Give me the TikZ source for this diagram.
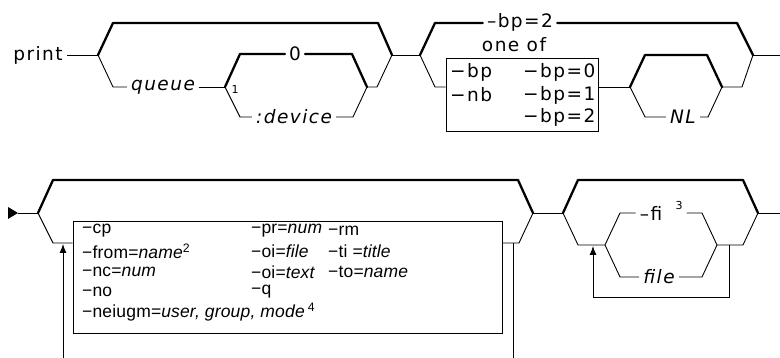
\documentclass[tikz,border=0pt]{standalone}
\usepackage{fontspec}
\setmainfont{DejaVu Sans}
\newfontfamily\boxfont{Liberation Sans}[LetterSpace=1]
\usetikzlibrary{arrows.meta}
\newcommand{\lblsize}{\fontsize{18.5}{22}\selectfont\addfontfeatures{LetterSpace=8}}
\newcommand{\boxsize}{\boxfont\fontsize{17.5}{20}\selectfont}
\begin{document}
\begin{tikzpicture}[x=1pt,y=-1pt,
  thn/.style={line width=0.9pt},
  thk/.style={line width=2.3pt,line join=round,line cap=round},
  lbl/.style={inner sep=0pt,inner xsep=4pt,font=\lblsize},
  var/.style={lbl,font=\lblsize\itshape},
  topbox/.style={inner sep=0pt,anchor=west,font=\lblsize},
  boxtxt/.style={inner sep=0pt,anchor=west,font=\boxsize},
  frame/.style={draw,line width=0.9pt,inner sep=0pt},
  sup/.style={inner sep=0pt,font=\fontsize{11}{13}\selectfont},
  loop/.style={thn,-{Latex[length=9pt,width=7pt]}}]
\useasboundingbox (0,0) rectangle (780,358);

% ---------------- top row ----------------
\node[lbl] (print) at (38,55) {print};
\coordinate (j1) at (98,55);
\coordinate (j2) at (392,55);
\coordinate (j3) at (225,87);
\coordinate (j4) at (367,87);
\coordinate (j5) at (420,55);
\coordinate (j6) at (630,87);
\coordinate (j7) at (722,87);
\coordinate (j8) at (753,55);
\coordinate (endA) at (780,55);

\node[var] (queue) at (163,87) {queue};
\node[lbl] (zero) at (295,54) {0};
\node[var] (device) at (294,117) {:device};
\node[sup] (one) at (235,89) {1};
\node[lbl] (bp2) at (520,22) {–bp=2};
\node[lbl] (oneof) at (514,45) {one of};
\node[frame,minimum width=152pt,minimum height=73pt] (box1) at (522,94.5) {};
\node[topbox] (t1) at (450,72) {−bp};
\node[topbox] (t2) at (450,95) {−nb};
\node[topbox] (t3) at (523,72) {−bp=0};
\node[topbox] (t4) at (523,95) {−bp=1};
\node[topbox] (t5) at (523,117) {−bp=2};
\node[var] (nl) at (683,117) {NL};

\draw[thn] (print) -- (j1);
\draw[thk] (j1) -- (113,23) -- (378,23) -- (j2);
\draw[thn] (j1) -- (113,87) -- (queue);
\draw[thn] (queue) -- (j3);
\draw[thk] (j3) -- (240,54) -- (zero);
\draw[thk] (zero) -- (352,54) -- (j4);
\draw[thn] (j3) -- (240,117) -- (device);
\draw[thn] (device) -- (353,117) -- (j4);
\draw[thn] (j4) -- (377,87) -- (j2);
\draw[thn] (j2) -- (j5);
\draw[thk] (j5) -- (435,23) -- (bp2.west |- 0,23);
\draw[thk] (bp2.east |- 0,23) -- (737,23) -- (j8);
\draw[thn] (j5) -- (435,87) -- (box1.west |- j6);
\draw[thn] (box1.east |- j6) -- (j6);
\draw[thk] (j6) -- (645,55) -- (707,55) -- (j7);
\draw[thn] (j6) -- (645,117) -- (nl);
\draw[thn] (nl) -- (708,117) -- (j7);
\draw[thn] (j7) -- (742,87) -- (j8);
\draw[thn] (j8) -- (endA);

% ---------------- bottom row ----------------
\coordinate (start) at (18,213);
\coordinate (k1) at (38,213);
\coordinate (k2) at (533,213);
\coordinate (k3) at (563,213);
\coordinate (k4) at (758,213);
\coordinate (k5) at (605,245);
\coordinate (k6) at (717,245);
\coordinate (endB) at (780,213);
\coordinate (lb1) at (63,358);
\coordinate (lb2) at (63,244);
\coordinate (rb1) at (513,243);
\coordinate (rb2) at (513,358);
\coordinate (fl1) at (729,245);
\coordinate (fl2) at (593,246);

\fill (8,207) -- (start) -- (8,219) -- cycle;
\node[frame,minimum width=429pt,minimum height=112pt] (box2) at (287.5,277) {};
\node[boxtxt] at (82,231) {−cp};
\node[boxtxt] at (82,251) {−from=\textit{name}\textsuperscript{2}};
\node[boxtxt] at (82,272) {−nc=\textit{num}};
\node[boxtxt] at (82,292) {−no};
\node[boxtxt] at (82,312) {−neiugm=\textit{user, group, mode}\,\textsuperscript{4}};
\node[boxtxt] at (251,231) {−pr=\textit{num}};
\node[boxtxt] at (251,251) {−oi=\textit{file}};
\node[boxtxt] at (251,272) {−oi=\textit{text}};
\node[boxtxt] at (251,292) {−q};
\node[boxtxt] at (328,231) {−rm};
\node[boxtxt] at (328,251) {−ti =\textit{title}};
\node[boxtxt] at (328,272) {−to=\textit{name}};

\node[lbl] (fi) at (651,213) {–fi};
\node[sup] (three) at (679,205) {3};
\node[var] (file) at (659,277) {file};

\draw[thn] (start) -- (k1);
\draw[thk] (k1) -- (53,180) -- (518,180) -- (k2);
\draw[thn] (k1) -- (53,243) -- (box2.west |- rb1);
\draw[thn] (box2.east |- rb1) -- (519,243) -- (k2);
\draw[loop] (lb1) -- (lb2);
\draw[thn] (rb1) -- (rb2);
\draw[thn] (k2) -- (k3);
\draw[thk] (k3) -- (578,180) -- (743,180) -- (k4);
\draw[thn] (k4) -- (endB);
\draw[thn] (k3) -- (578,245) -- (k5);
\draw[thn] (k5) -- (620,213) -- (fi);
\draw[thn] (three.east |- fi) ++(4,0) -- (702,213) -- (k6);
\draw[thn] (k5) -- (620,277) -- (file);
\draw[thn] (file) -- (702,277) -- (k6);
\draw[thn] (k6) -- (743,245) -- (k4);
\draw[loop] (fl1) -- (729,297) -- (593,297) -- (fl2);
\end{tikzpicture}
\end{document}
